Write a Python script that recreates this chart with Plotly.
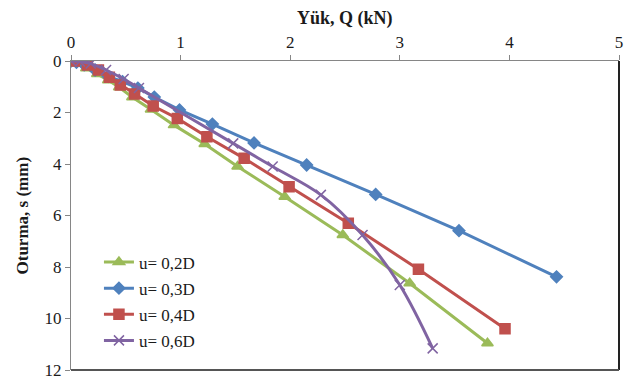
import plotly.graph_objects as go

# Data (Q in kN, s in mm)
q_02 = [0, 0.06, 0.14, 0.24, 0.34, 0.44, 0.56, 0.73, 0.94, 1.22, 1.52, 1.95, 2.48, 3.09, 3.80]
s_02 = [0, 0.10, 0.28, 0.50, 0.75, 1.02, 1.41, 1.88, 2.49, 3.22, 4.10, 5.27, 6.76, 8.63, 10.96]

q_03 = [0, 0.05, 0.12, 0.22, 0.34, 0.47, 0.61, 0.76, 0.99, 1.29, 1.67, 2.15, 2.78, 3.54, 4.43]
s_03 = [0, 0.05, 0.15, 0.35, 0.60, 0.80, 1.05, 1.40, 1.90, 2.45, 3.18, 4.04, 5.18, 6.59, 8.38]

q_04 = [0.03, 0.15, 0.25, 0.35, 0.45, 0.58, 0.75, 0.97, 1.24, 1.58, 1.99, 2.53, 3.17, 3.96]
s_04 = [0, 0.16, 0.35, 0.63, 0.93, 1.28, 1.75, 2.23, 2.94, 3.78, 4.88, 6.30, 8.09, 10.40]

q_06 = [0, 0.08, 0.18, 0.32, 0.48, 0.62, 1.48, 1.84, 2.28, 2.66, 3.00, 3.30]
s_06 = [0, 0.02, 0.10, 0.35, 0.70, 1.05, 3.20, 4.10, 5.20, 6.76, 8.70, 11.16]

names = ["u= 0,2D", "u= 0,3D", "u= 0,4D", "u= 0,6D"]
x_ticks = [0, 1, 2, 3, 4, 5]
y_ticks = [0, 2, 4, 6, 8, 10, 12]
x_title = "Yük, Q (kN)"
y_title = "Oturma, s (mm)"

FONT = "Liberation Serif, Times New Roman, serif"

fig = go.Figure()
series = [
    (q_02, s_02, names[0], "#9BBB59", "triangle-up", 10, "linear"),
    (q_03, s_03, names[1], "#4F81BD", "diamond", 9, "linear"),
    (q_04, s_04, names[2], "#C0504D", "square", 10, "linear"),
    (q_06, s_06, names[3], "#8064A2", "x-thin", 10, "spline"),
]
for i, (x, y, n, c, sym, sz, shape) in enumerate(series):
    fig.add_trace(go.Scatter(
        x=x, y=y, name=n, mode="lines+markers",
        line=dict(color=c, width=3, shape=shape),
        marker=dict(symbol=sym, size=sz, color=c,
                    line=dict(color=c, width=1.5)),
        legendgroup=f"g{i}",
    ))

fig.update_layout(
    width=628, height=377,
    margin=dict(l=71, r=9, t=61, b=7, autoexpand=False),
    paper_bgcolor="white", plot_bgcolor="white",
    font=dict(family=FONT, size=17, color="#1a1a1a"),
    showlegend=True,
    legend=dict(x=0.051, y=0.406, xanchor="left", yanchor="top",
                bgcolor="rgba(0,0,0,0)", font=dict(family=FONT, size=17),
                tracegroupgap=1, itemwidth=30),
    xaxis=dict(side="top", range=[0, 5], tickvals=x_ticks, automargin=False,
               showgrid=False, zeroline=False, showline=True,
               linecolor="#868686", linewidth=1, ticks="outside",
               ticklen=5, tickcolor="#868686", ticklabeloverflow="allow"),
    yaxis=dict(range=[12, 0], tickvals=y_ticks, automargin=False,
               showgrid=False, zeroline=False, showline=True,
               linecolor="#868686", linewidth=1, ticks="outside",
               ticklen=5, tickcolor="#868686", ticklabeloverflow="allow"),
    annotations=[
        dict(text=f"<b>{x_title}</b>", xref="paper", yref="paper",
             x=0.5, y=1, yshift=43, xanchor="center", yanchor="middle",
             showarrow=False, font=dict(family=FONT, size=18)),
        dict(text=f"<b>{y_title}</b>", xref="paper", yref="paper",
             x=0, xshift=-49, y=0.5, xanchor="center", yanchor="middle",
             textangle=-90, showarrow=False, font=dict(family=FONT, size=17)),
    ],
)
fig.add_shape(type="line", xref="paper", yref="paper", x0=1, x1=1, y0=0, y1=1,
              line=dict(color="#222222", width=2))
fig.add_shape(type="line", xref="paper", yref="paper", x0=0, x1=1, y0=0, y1=0,
              line=dict(color="#555555", width=2))

fig.write_html("out.html", config={"displayModeBar": False},
               post_script="document.body.style.margin='0';")
